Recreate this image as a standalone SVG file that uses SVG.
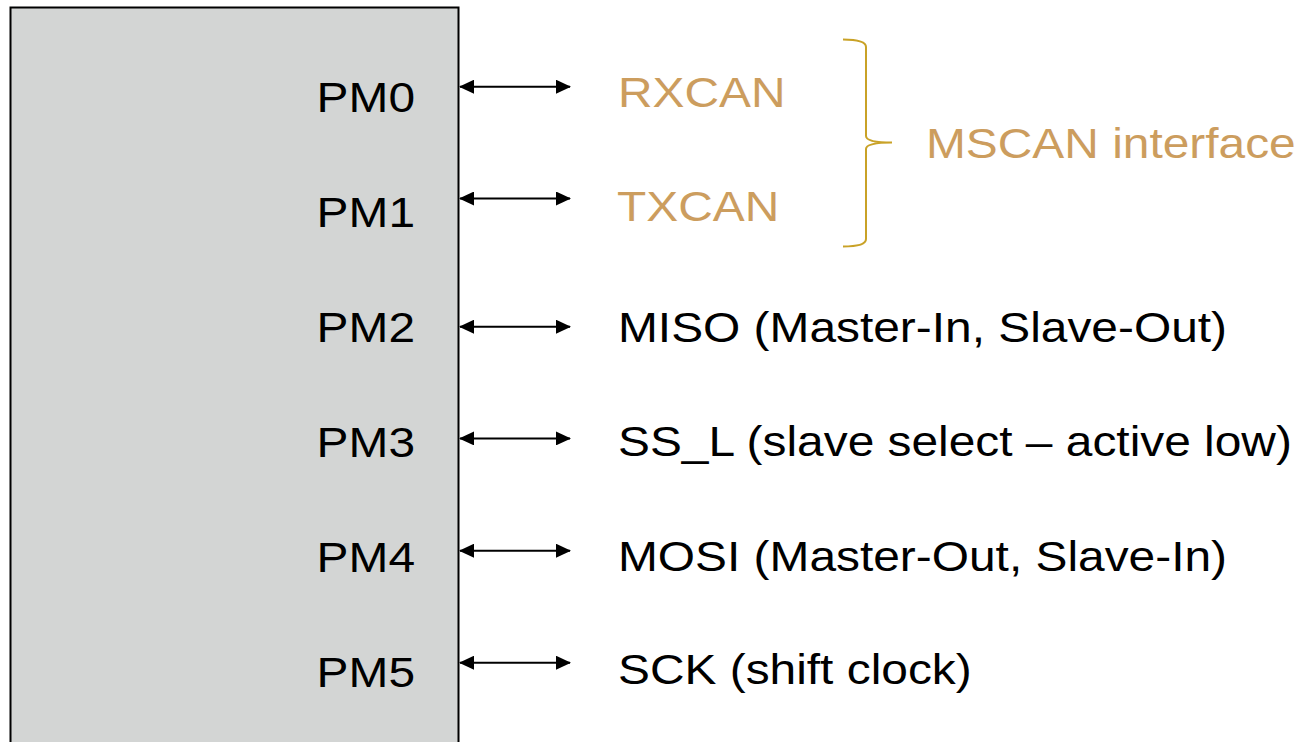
<svg xmlns="http://www.w3.org/2000/svg" width="1299" height="742" viewBox="0 0 1299 742">
<style>
.t{font-family:"Liberation Sans",Arial,sans-serif;font-size:42px;fill:#000}
.o{fill:#CC9D5E}
.pm{text-anchor:end}
.c{stroke:#000;stroke-width:2;fill:none}
</style>
<defs>
<marker id="ah" viewBox="0 0 15 14" refX="14" refY="7" markerWidth="15" markerHeight="14" markerUnits="userSpaceOnUse" orient="auto-start-reverse">
<path d="M0,0 L15,7 L0,14 Z" fill="#000"/>
</marker>
</defs>
<rect width="1299" height="742" fill="#fff"/>
<g id="chip">
<rect x="10.5" y="7.5" width="448" height="760" fill="#D3D5D4" stroke="#000" stroke-width="2"/>
<text class="t pm" transform="translate(415,111.7) scale(1.14,1)">PM0</text>
<text class="t pm" transform="translate(415,226.5) scale(1.14,1)">PM1</text>
<text class="t pm" transform="translate(415,342.2) scale(1.14,1)">PM2</text>
<text class="t pm" transform="translate(415,456.5) scale(1.14,1)">PM3</text>
<text class="t pm" transform="translate(415,571.5) scale(1.14,1)">PM4</text>
<text class="t pm" transform="translate(415,686.5) scale(1.14,1)">PM5</text>
</g>
<g id="connectors">
<line class="c" x1="460" y1="86.7" x2="570" y2="86.7" marker-start="url(#ah)" marker-end="url(#ah)"/>
<line class="c" x1="460" y1="198.5" x2="570" y2="198.5" marker-start="url(#ah)" marker-end="url(#ah)"/>
<line class="c" x1="460" y1="326.7" x2="570" y2="326.7" marker-start="url(#ah)" marker-end="url(#ah)"/>
<line class="c" x1="460" y1="438.4" x2="570" y2="438.4" marker-start="url(#ah)" marker-end="url(#ah)"/>
<line class="c" x1="460" y1="550.7" x2="570" y2="550.7" marker-start="url(#ah)" marker-end="url(#ah)"/>
<line class="c" x1="460" y1="662.7" x2="570" y2="662.7" marker-start="url(#ah)" marker-end="url(#ah)"/>
</g>
<g id="rxcan"><text class="t o" transform="translate(618,106.7) scale(1.14,1)">RXCAN</text></g>
<g id="txcan"><text class="t o" transform="translate(617,220.5) scale(1.14,1)">TXCAN</text></g>
<g id="miso"><text class="t" transform="translate(618,341.7) scale(1.14,1)">MISO (Master-In, Slave-Out)</text></g>
<g id="ssl"><text class="t" transform="translate(618,455.5) scale(1.14,1)">SS_L (slave select – active low)</text></g>
<g id="mosi"><text class="t" transform="translate(618,570.5) scale(1.14,1)">MOSI (Master-Out, Slave-In)</text></g>
<g id="sck"><text class="t" transform="translate(618,683.5) scale(1.14,1)">SCK (shift clock)</text></g>
<g id="mscan">
<path d="M843,39.5 Q866,39.5 866,47 L866,136 Q866,142.5 892,142.5 Q866,142.5 866,149 L866,239 Q866,246.5 843,246.5" fill="none" stroke="#C9A227" stroke-width="2"/>
<text class="t o" transform="translate(926,158) scale(1.14,1)">MSCAN interface</text>
</g>
</svg>
